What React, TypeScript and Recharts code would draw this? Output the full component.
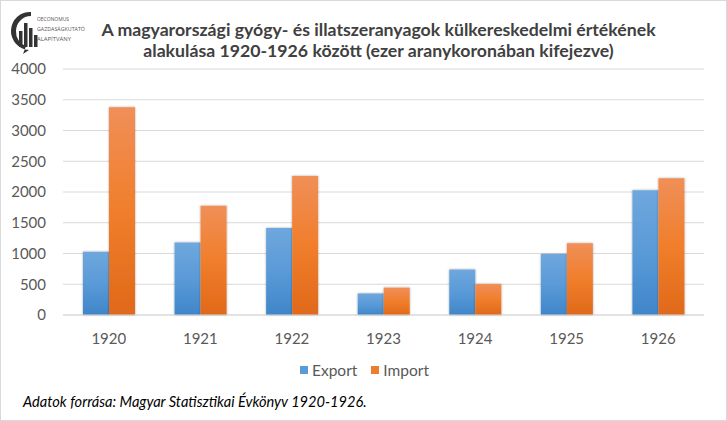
import React from "react";
import { BarChart, Bar, XAxis, YAxis, CartesianGrid } from "recharts";

const years = ["1920", "1921", "1922", "1923", "1924", "1925", "1926"];
const exportValues = [1030, 1180, 1415, 350, 740, 990, 2030];
const importValues = [3380, 1775, 2260, 445, 505, 1165, 2222];
const yTicks = [0, 500, 1000, 1500, 2000, 2500, 3000, 3500, 4000];
const seriesNames = ["Export", "Import"];
const titleLines = [
  "A magyarországi gyógy- és illatszeranyagok külkereskedelmi értékének",
  "alakulása 1920-1926 között (ezer aranykoronában kifejezve)",
];
const sourceText = "Adatok forrása: Magyar Statisztikai Évkönyv 1920-1926.";
const logoLines = ["OECONOMUS", "GAZDASÁGKUTATÓ", "ALAPÍTVÁNY"];
const logoLineWidths = [32, 48, 34];

const data = years.map((y, i) => ({ year: y, Export: exportValues[i], Import: importValues[i] }));

const FONT = "Lato, 'Open Sans', sans-serif";
const legendColors = ["#5b9bd5", "#ed7d31"];

export default function App() {
  return (
    <div
      style={{
        position: "absolute",
        left: 0,
        top: 0,
        width: 727,
        height: 421,
        border: "1px solid #d9d9d9",
        boxSizing: "border-box",
        background: "#fff",
        fontFamily: FONT,
        overflow: "hidden",
      }}
    >
      <div style={{ position: "absolute", left: 0, top: 0 }}>
        <BarChart
          width={727}
          height={421}
          data={data}
          margin={{ top: 68, right: 24, bottom: 77, left: 0 }}
          barGap={0}
          barSize={26}
        >
          <defs>
            <linearGradient id="gExp" x1="0" y1="0" x2="0" y2="1">
              <stop offset="0%" stopColor="#6fa7dd" />
              <stop offset="50%" stopColor="#5a9ad8" />
              <stop offset="100%" stopColor="#3f86c9" />
            </linearGradient>
            <linearGradient id="gImp" x1="0" y1="0" x2="0" y2="1">
              <stop offset="0%" stopColor="#f08f58" />
              <stop offset="50%" stopColor="#f07e2b" />
              <stop offset="100%" stopColor="#e0691a" />
            </linearGradient>
            <filter id="shadow" x="-20%" y="-5%" width="140%" height="110%">
              <feDropShadow dx="0" dy="0" stdDeviation="1.2" floodColor="#000" floodOpacity="0.35" />
            </filter>
          </defs>
          <CartesianGrid vertical={false} stroke="#d9d9d9" strokeWidth={1} />
          <XAxis
            dataKey="year"
            height={30}
            axisLine={{ stroke: "#d9d9d9" }}
            tickLine={false}
            tickSize={0}
            tickMargin={18}
            tick={{ fill: "#595959", fontSize: 15, fontFamily: FONT }}
            interval={0}
          />
          <YAxis
            domain={[0, 4000]}
            ticks={yTicks}
            width={62}
            axisLine={false}
            tickLine={false}
            tickSize={0}
            tickMargin={17}
            tick={{ fill: "#595959", fontSize: 15, fontFamily: FONT }}
            interval={0}
          />
          <Bar dataKey="Export" fill="url(#gExp)" filter="url(#shadow)" isAnimationActive={false} />
          <Bar dataKey="Import" fill="url(#gImp)" filter="url(#shadow)" isAnimationActive={false} />
        </BarChart>
      </div>

      {/* Title */}
      <div
        style={{
          position: "absolute",
          left: 0,
          width: 755,
          top: 18,
          textAlign: "center",
          fontWeight: 700,
          fontSize: 17.7,
          lineHeight: "21px",
          color: "#404040",
        }}
      >
        {titleLines.map((t) => (
          <div key={t}>{t}</div>
        ))}
      </div>

      {/* Logo */}
      <svg style={{ position: "absolute", left: 6, top: 8, overflow: "visible" }} width={94} height={46}>
        <path
          d="M24 3 A19 19 0 1 0 22 41 L16 45 L19 37 A15 15 0 0 1 9 22 A15 15 0 0 1 24 7 Z"
          fill="#333"
        />
        <rect x={12} y={22} width={3.5} height={16} fill="#333" />
        <rect x={17} y={14} width={3.5} height={24} fill="#333" />
        <rect x={22} y={19} width={3.5} height={19} fill="#333" />
        <rect x={27} y={26} width={3.5} height={12} fill="#333" />
        {logoLines.map((t, i) => (
          <text
            key={t}
            x={30}
            y={12 + i * 10}
            fontSize={6}
            fill="#555"
            textLength={logoLineWidths[i]}
            lengthAdjust="spacingAndGlyphs"
            fontFamily="'Open Sans', sans-serif"
          >
            {t}
          </text>
        ))}
      </svg>

      {/* Legend */}
      <div
        style={{
          position: "absolute",
          left: 0,
          width: 727,
          top: 360,
          display: "flex",
          justifyContent: "center",
          alignItems: "center",
          fontSize: 15.5,
          color: "#595959",
        }}
      >
        {seriesNames.map((n, i) => (
          <div key={n} style={{ display: "flex", alignItems: "center", marginRight: i === 0 ? 14 : 0 }}>
            <span
              style={{
                display: "inline-block",
                width: 8,
                height: 8,
                background: legendColors[i],
                marginRight: 4,
              }}
            />
            <span>{n}</span>
          </div>
        ))}
      </div>

      {/* Source */}
      <div
        style={{
          position: "absolute",
          left: 22,
          top: 392,
          fontSize: 14.6,
          fontStyle: "italic",
          color: "#000",
        }}
      >
        {sourceText}
      </div>
    </div>
  );
}
